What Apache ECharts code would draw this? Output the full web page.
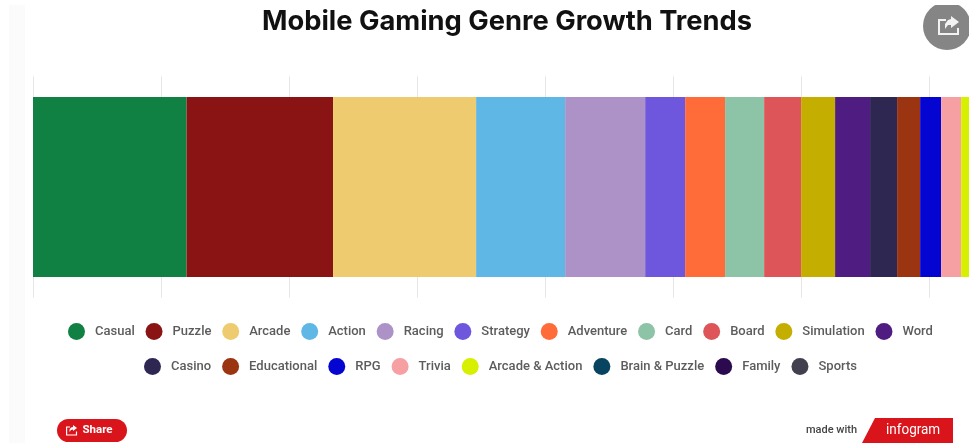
<!DOCTYPE html>
<html>
<head>
<meta charset="utf-8">
<style>
html,body{margin:0;padding:0;background:#fff;overflow:hidden}
#chart{width:969px;height:443px}
</style>
<script src="https://cdn.jsdelivr.net/npm/echarts@6/dist/echarts.min.js"></script>
</head>
<body>
<div id="chart"></div>
<script>
const chartTitle = 'Mobile Gaming Genre Growth Trends';
const category = ['Share of growth'];
const genres = ['Casual','Puzzle','Arcade','Action','Racing','Strategy','Adventure','Card','Board','Simulation','Word','Casino','Educational','RPG','Trivia','Arcade & Action','Brain & Puzzle','Family','Sports'];
const values = [11.99,11.44,11.17,6.95,6.25,3.12,3.12,3.05,2.89,2.65,2.73,2.11,1.8,1.64,1.56,1.4,1.2,1.0,0.8];
const colors = ['#108043','#8a1414','#efcb6f','#5eb7e5','#ad92c8','#6e57dc','#ff6b39','#8dc3a7','#dd5558','#c4ae00','#4f1c82','#2e2751','#9b3410','#0505d2','#f7a0a4','#d6f000','#08435f','#2b0a4f','#42404f'];
const legendRowOne = genres.slice(0, 11);
const legendRowTwo = genres.slice(11);

const legendBase = {
  orient: 'horizontal',
  icon: 'circle',
  itemWidth: 17,
  itemHeight: 17,
  itemGap: 11,
  padding: 0,
  width: 900,
  selectedMode: false,
  textStyle: {fontFamily: 'Roboto', fontSize: 13, fontWeight: 500, color: '#5c5c5c', padding: [0, 0, 0, 5]}
};

const chart = echarts.init(document.getElementById('chart'), null, {renderer: 'canvas'});
chart.setOption({
  animation: false,
  backgroundColor: '#fff',
  title: {
    text: chartTitle, left: 257, top: 3,
    textStyle: {fontFamily: 'Inter', fontWeight: 700, fontSize: 27.3, color: '#111'}
  },
  legend: [
    Object.assign({}, legendBase, {data: legendRowOne, left: 68, top: 323, itemGap: 10.8}),
    Object.assign({}, legendBase, {data: legendRowTwo, left: 144, top: 358})
  ],
  // the scale runs on past the right edge of the page, so the bar is cut off there
  grid: {left: 33, top: 76.5, width: 1101.4, height: 221, outerBoundsMode: 'none'},
  xAxis: {
    type: 'value', min: 0, max: 86, interval: 10,
    axisLine: {show: false}, axisTick: {show: false}, axisLabel: {show: false},
    splitLine: {show: true, lineStyle: {color: '#e6e6e6', width: 1}}
  },
  yAxis: {
    type: 'category', data: category,
    axisLine: {show: false}, axisTick: {show: false}, axisLabel: {show: false}
  },
  series: genres.map((name, i) => ({
    name, type: 'bar', stack: 'total', barWidth: 180,
    data: [values[i]],
    itemStyle: {color: colors[i]}
  })),
  graphic: [
    // faint page edge at the left
    {type: 'rect', z: -1, shape: {x: 9, y: 5, width: 16, height: 438}, style: {fill: '#fbfbfb'}},
    // round share control, top right, trimmed along its top
    {type: 'circle', shape: {cx: 947, cy: 26, r: 24}, style: {fill: '#858585'}},
    {type: 'rect', shape: {x: 915, y: 0, width: 54, height: 5}, style: {fill: '#fff'}},
    {type: 'polyline', shape: {points: [[946, 20], [939, 20], [939, 34], [958, 34], [958, 28]]},
      style: {fill: 'none', stroke: '#f2f2f2', lineWidth: 2}},
    {type: 'polygon', shape: {points: [[951, 16], [959, 22], [951, 28], [951, 25], [948, 25], [945, 29], [945, 24], [948, 20], [951, 19]]},
      style: {fill: '#f2f2f2'}},
    // share button
    {type: 'rect', shape: {x: 57, y: 419, width: 70, height: 23, r: 11.5}, style: {fill: '#d9141a'}},
    {type: 'polyline', shape: {points: [[70, 427], [66.6, 427], [66.6, 435], [76.5, 435], [76.5, 431.5]]},
      style: {fill: 'none', stroke: '#fff', lineWidth: 1.2}},
    {type: 'polygon', shape: {points: [[73, 425], [77, 428], [73, 431], [73, 429.4], [71, 430], [69.5, 432], [69.5, 429.5], [71, 427.5], [73, 427]]},
      style: {fill: '#fff'}},
    {type: 'text', x: 82.5, y: 430.5, style: {text: 'Share', fill: '#fff', font: '700 11.5px Roboto', textVerticalAlign: 'middle'}},
    // attribution
    {type: 'text', x: 806, y: 430.5, style: {text: 'made with', fill: '#444', font: '500 11px Roboto', textVerticalAlign: 'middle'}},
    {type: 'polygon', shape: {points: [[875, 418], [953, 418], [953, 443], [862, 443]]}, style: {fill: '#d9141a'}},
    {type: 'text', x: 886, y: 430, scaleX: 0.9, style: {text: 'infogram', fill: '#fff', font: '400 15px Roboto', textVerticalAlign: 'middle'}}
  ]
});
</script>
</body>
</html>
